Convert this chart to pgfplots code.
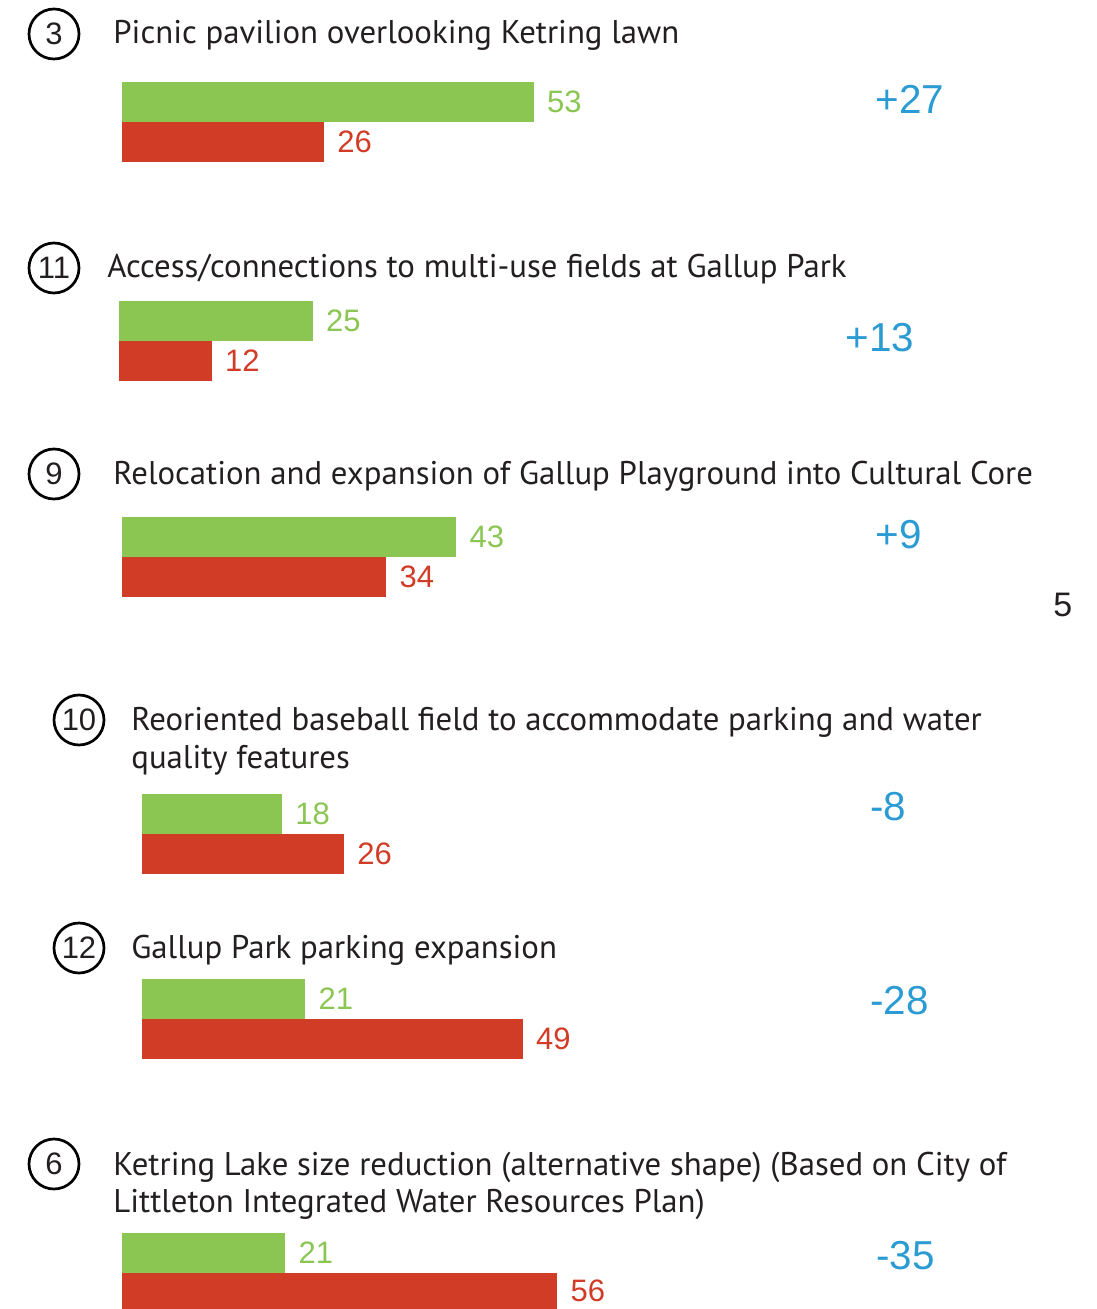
\documentclass[border=0pt]{standalone}
\usepackage{pgfplots}
\pgfplotsset{compat=1.18}
\usepackage{fontspec}
\setmainfont{PT Sans}
\newfontfamily\numf{Liberation Sans}
\definecolor{cgreen}{HTML}{8BC653}
\definecolor{cred}{HTML}{D13C27}
\definecolor{cblue}{HTML}{2A9BD3}
\definecolor{ctext}{HTML}{231F20}
\pgfplotsset{
  frame/.style={scale only axis, width=548pt, height=654.5pt, ymin=0, ymax=1309,
    y dir=reverse, hide axis, clip=false, at={(0,0)}, anchor=south west},
  barax/.style={frame, /pgf/number format/assume math mode=true},
  gbar/.style={xbar, bar width=40, fill=cgreen, draw=none, nodes near coords, point meta=x,
    every node near coord/.append style={anchor=west, inner sep=0pt, xshift=6.5pt, text=cgreen,
      font=\numf\fontsize{15.5}{16}\selectfont}},
  rbar/.style={xbar, bar width=40, fill=cred, draw=none, nodes near coords, point meta=x,
    every node near coord/.append style={anchor=west, inner sep=0pt, xshift=6.5pt, text=cred,
      font=\numf\fontsize{15.5}{16}\selectfont}},
}
\tikzset{
  ttl/.style={anchor=base west, inner sep=0pt, text=ctext, font=\fontsize{16.4}{19}\selectfont},
  net/.style={anchor=base west, inner sep=0pt, text=cblue, font=\numf\fontsize{20.2}{21}\selectfont},
  circ/.style={draw=black, circle, line width=1.35pt, minimum size=25pt, inner sep=0pt,
    font=\numf\fontsize{15.5}{15.5}\selectfont, text=ctext},
}
\begin{document}
\begin{tikzpicture}
% ---- text layer in pixel coordinates
\begin{axis}[frame, xmin=0, xmax=1096]
  \node[circ] at (axis cs:54,34) {3};
  \node[ttl] at (axis cs:113,44) {Picnic pavilion overlooking Ketring lawn};
  \node[net] at (axis cs:875,114) {+27};

  \node[circ] at (axis cs:54,268) {11};
  \node[ttl] at (axis cs:107,278) {Access/connections to multi-use fields at Gallup Park};
  \node[net] at (axis cs:845,352) {+13};

  \node[circ] at (axis cs:54,474) {9};
  \node[ttl] at (axis cs:113,485) {Relocation and expansion of Gallup Playground into Cultural Core};
  \node[net] at (axis cs:875,548) {+9};
  \node[anchor=base west, inner sep=0pt, text=ctext, font=\numf\fontsize{17}{17}\selectfont] at (axis cs:1053,616) {5};

  \node[circ] at (axis cs:79,720) {10};
  \node[ttl] at (axis cs:131,730) {Reoriented baseball field to accommodate parking and water};
  \node[ttl] at (axis cs:131,768) {quality features};
  \node[net] at (axis cs:870,820) {-8};

  \node[circ] at (axis cs:79,948) {12};
  \node[ttl] at (axis cs:131,958) {Gallup Park parking expansion};
  \node[net] at (axis cs:870,1014) {-28};

  \node[circ] at (axis cs:54,1164) {6};
  \node[ttl] at (axis cs:113,1175) {Ketring Lake size reduction (alternative shape) (Based on City of};
  \node[ttl] at (axis cs:113,1212) {Littleton Integrated Water Resources Plan)};
  \node[net] at (axis cs:876,1269) {-35};
\end{axis}
% ---- group 3 (left 122 px)
\begin{axis}[barax, xmin=-15.701, xmax=125.354]
  \addplot[gbar] coordinates {(53,102)};
  \addplot[rbar] coordinates {(26,142)};
\end{axis}
% ---- group 11 (left 118.5 px)
\begin{axis}[barax, xmin=-15.251, xmax=125.804]
  \addplot[gbar] coordinates {(25,321)};
  \addplot[rbar] coordinates {(12,361)};
\end{axis}
% ---- group 9 (left 122 px)
\begin{axis}[barax, xmin=-15.701, xmax=125.354]
  \addplot[gbar] coordinates {(43,537)};
  \addplot[rbar] coordinates {(34,577)};
\end{axis}
% ---- group 10 (left 142 px)
\begin{axis}[barax, xmin=-18.275, xmax=122.780]
  \addplot[gbar] coordinates {(18,814)};
  \addplot[rbar] coordinates {(26,854)};
\end{axis}
% ---- group 12 (left 142 px)
\begin{axis}[barax, xmin=-18.275, xmax=122.780]
  \addplot[gbar] coordinates {(21,999)};
  \addplot[rbar] coordinates {(49,1039)};
\end{axis}
% ---- group 6 (left 122 px)
\begin{axis}[barax, xmin=-15.701, xmax=125.354]
  \addplot[gbar] coordinates {(21,1253)};
  \addplot[rbar, bar width=36] coordinates {(56,1291)};
\end{axis}
\pgfresetboundingbox
\path[use as bounding box] (0,0) rectangle (548pt,654.5pt);
\end{tikzpicture}
\end{document}
